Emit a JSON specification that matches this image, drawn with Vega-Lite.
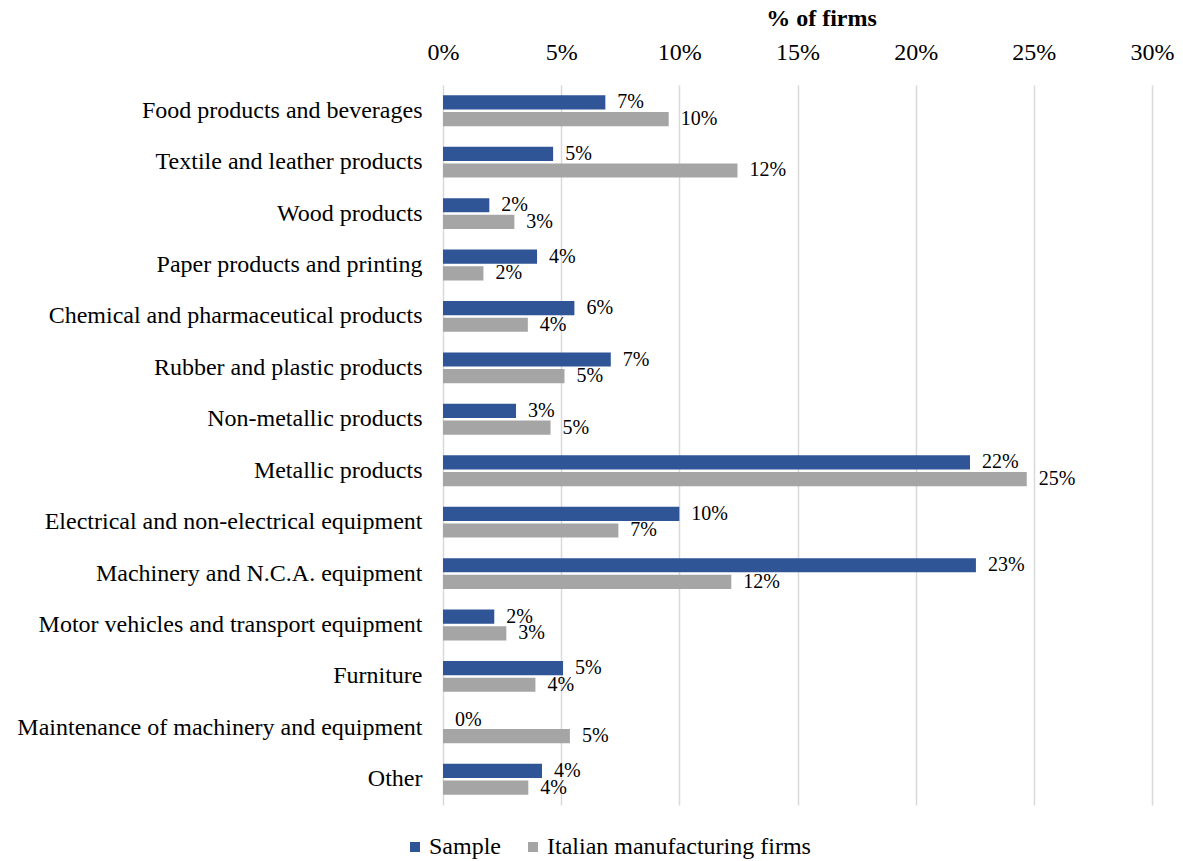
{
  "$schema": "https://vega.github.io/schema/vega-lite/v6.json",
  "width": 709,
  "height": 720,
  "autosize": {"type": "none"},
  "padding": {"left": 443, "top": 85, "right": 31, "bottom": 56},
  "background": "white",
  "config": {
    "view": {"stroke": null},
    "font": "Liberation Serif",
    "text": {"font": "Liberation Serif"}
  },
  "data": {
    "values": [
      {"sector": "Food products and beverages", "group": "Sample", "share": 0.0687},
      {"sector": "Food products and beverages", "group": "Italian manufacturing firms", "share": 0.0955},
      {"sector": "Textile and leather products\u2005\u2005", "group": "Sample", "share": 0.0466},
      {"sector": "Textile and leather products\u2005\u2005", "group": "Italian manufacturing firms", "share": 0.1246},
      {"sector": "Wood products\u2005", "group": "Sample", "share": 0.0196},
      {"sector": "Wood products\u2005", "group": "Italian manufacturing firms", "share": 0.0302},
      {"sector": "Paper products and printing", "group": "Sample", "share": 0.0398},
      {"sector": "Paper products and printing", "group": "Italian manufacturing firms", "share": 0.0171},
      {"sector": "Chemical and pharmaceutical products", "group": "Sample", "share": 0.0556},
      {"sector": "Chemical and pharmaceutical products", "group": "Italian manufacturing firms", "share": 0.0359},
      {"sector": "Rubber and plastic products", "group": "Sample", "share": 0.071},
      {"sector": "Rubber and plastic products", "group": "Italian manufacturing firms", "share": 0.0514},
      {"sector": "Non-metallic products", "group": "Sample", "share": 0.0309},
      {"sector": "Non-metallic products", "group": "Italian manufacturing firms", "share": 0.0455},
      {"sector": "Metallic products\u2005", "group": "Sample", "share": 0.223},
      {"sector": "Metallic products\u2005", "group": "Italian manufacturing firms", "share": 0.247},
      {"sector": "Electrical and non-electrical equipment", "group": "Sample", "share": 0.1},
      {"sector": "Electrical and non-electrical equipment", "group": "Italian manufacturing firms", "share": 0.0742},
      {"sector": "Machinery and N.C.A. equipment\u2005", "group": "Sample", "share": 0.2255},
      {"sector": "Machinery and N.C.A. equipment\u2005", "group": "Italian manufacturing firms", "share": 0.122},
      {"sector": "Motor vehicles and transport equipment", "group": "Sample", "share": 0.0217},
      {"sector": "Motor vehicles and transport equipment", "group": "Italian manufacturing firms", "share": 0.0268},
      {"sector": "Furniture", "group": "Sample", "share": 0.0508},
      {"sector": "Furniture", "group": "Italian manufacturing firms", "share": 0.0391},
      {"sector": "Maintenance of machinery and equipment\u2005", "group": "Sample", "share": 0},
      {"sector": "Maintenance of machinery and equipment\u2005", "group": "Italian manufacturing firms", "share": 0.0537},
      {"sector": "Other", "group": "Sample", "share": 0.0419},
      {"sector": "Other", "group": "Italian manufacturing firms", "share": 0.0361}
    ]
  },
  "encoding": {
    "y": {
      "field": "sector",
      "type": "nominal",
      "sort": null,
      "scale": {"paddingInner": 0.4, "paddingOuter": 0.2},
      "axis": {
        "title": null,
        "domain": false,
        "ticks": false,
        "labelPadding": 21,
        "labelFontSize": 24,
        "labelFont": "Liberation Serif",
        "labelColor": "#000000",
        "labelLimit": 0
      }
    },
    "yOffset": {
      "field": "group",
      "type": "nominal",
      "sort": ["Sample", "Italian manufacturing firms"],
      "scale": {"paddingInner": 0.15}
    },
    "x": {
      "field": "share",
      "type": "quantitative",
      "scale": {"domain": [0, 0.3], "nice": false},
      "axis": {
        "orient": "top",
        "title": "% of firms",
        "titleFont": "Liberation Serif",
        "titleFontSize": 24,
        "titleFontWeight": "bold",
        "titleColor": "#000000",
        "titlePadding": 10,
        "titleX": 378,
        "values": [0, 0.05, 0.1, 0.15, 0.2, 0.25, 0.3],
        "format": ".0%",
        "domain": false,
        "ticks": false,
        "tickSize": 0,
        "labelFlush": false,
        "labelPadding": 21,
        "labelFontSize": 24,
        "labelFont": "Liberation Serif",
        "labelColor": "#000000",
        "grid": true,
        "gridColor": "#d9d9d9",
        "gridWidth": 1.5
      }
    }
  },
  "layer": [
    {
      "mark": {"type": "bar"},
      "encoding": {
        "color": {
          "field": "group",
          "type": "nominal",
          "scale": {
            "domain": ["Sample", "Italian manufacturing firms"],
            "range": ["#2f5597", "#a5a5a5"]
          },
          "legend": {
            "title": null,
            "orient": "none",
            "direction": "horizontal",
            "legendX": -40,
            "legendY": 750,
            "symbolType": "square",
            "symbolSize": 100,
            "symbolStrokeWidth": 0,
            "labelFontSize": 24,
            "labelFont": "Liberation Serif",
            "labelColor": "#000000",
            "labelOffset": 2,
            "columnPadding": 20,
            "labelLimit": 0
          }
        }
      }
    },
    {
      "mark": {"type": "text", "align": "left", "baseline": "middle", "dx": 12, "fontSize": 20, "font": "Liberation Serif", "color": "#000000"},
      "encoding": {
        "text": {"field": "share", "type": "quantitative", "format": ".0%"}
      }
    }
  ]
}
